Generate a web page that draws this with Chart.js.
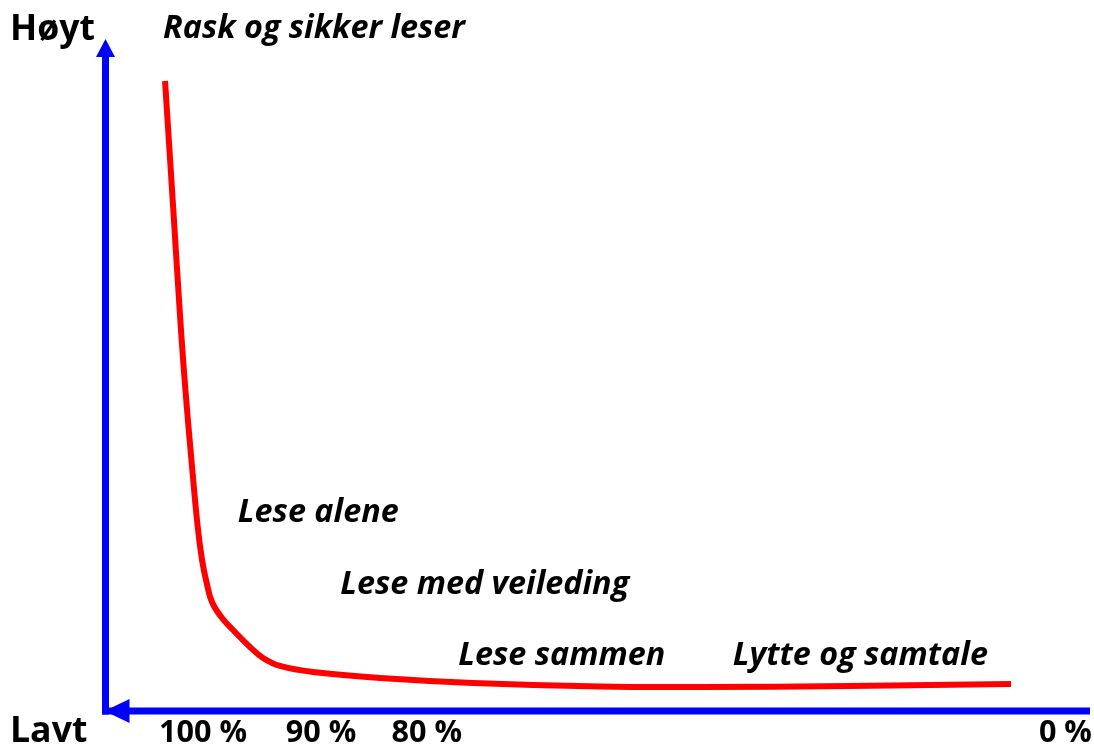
<!DOCTYPE html>
<html>
<head>
<meta charset="utf-8">
<script src="https://cdn.jsdelivr.net/npm/chart.js@4"></script>
<style>
  html, body { margin: 0; padding: 0; background: #ffffff; }
  #wrap { width: 1094px; height: 749px; position: relative; }
</style>
</head>
<body>
<div id="wrap"><canvas id="c"></canvas></div>
<script>
// ---- data (abstract units: x = position along axis 0..100, y = level 0..100) ----
const curveX = [6.00, 6.81, 7.62, 8.13, 8.71, 9.30, 9.76, 10.21, 10.77, 11.79, 13.11, 14.63, 15.96, 17.68, 21.04, 27.85, 37.30, 50.20, 60.37, 75.61, 91.97];
const curveY = [93.90, 75.45, 56.85, 46.88, 37.05, 27.83, 22.62, 19.35, 16.37, 13.99, 11.90, 9.67, 8.04, 6.85, 5.95, 5.06, 4.32, 3.79, 3.72, 3.87, 4.17];

const tickLabels = ['100 %', '90 %', '80 %', '0 %'];
const tickValues = [9.86, 21.85, 32.6, 97.5];

const labelTexts = ['Rask og sikker leser', 'Lese alene', 'Lese med veileding', 'Lese sammen', 'Lytte og samtale'];
const labelX = [5.8, 13.4, 23.8, 35.8, 63.7];
const labelY = [101.6, 29.7, 19.0, 8.3, 8.3];

const highLabel = 'Høyt';
const lowLabel = 'Lavt';

const points = curveX.map((x, i) => ({ x: x, y: curveY[i] }));

const FONT = '"Open Sans", Lato, sans-serif';
const BLUE = '#0000ff';

function fitFont(ctx, style, text, target) {
  ctx.font = style + ' 100px ' + FONT;
  const w = ctx.measureText(text).width;
  return style + ' ' + (100 * target / w).toFixed(2) + 'px ' + FONT;
}

const decor = {
  id: 'decor',
  afterDraw(chart) {
    const ctx = chart.ctx;
    const xs = chart.scales.x, ys = chart.scales.y;
    const a = chart.chartArea;
    ctx.save();
    // axes
    const ax = a.left - 0.5, ay = a.bottom - 1;
    ctx.strokeStyle = BLUE;
    ctx.lineWidth = 7;
    ctx.lineCap = 'butt';
    ctx.beginPath();
    ctx.moveTo(ax, ay + 3.5);
    ctx.lineTo(ax, a.top + 15);
    ctx.stroke();
    ctx.beginPath();
    ctx.moveTo(ax - 3.5, ay);
    ctx.lineTo(a.right, ay);
    ctx.stroke();
    // up arrow
    ctx.fillStyle = BLUE;
    ctx.beginPath();
    ctx.moveTo(ax, a.top - 1);
    ctx.lineTo(ax + 9.5, a.top + 17);
    ctx.lineTo(ax - 9.5, a.top + 17);
    ctx.closePath();
    ctx.fill();
    // left arrow
    ctx.beginPath();
    ctx.moveTo(ax - 1, ay);
    ctx.lineTo(ax + 24, ay - 12);
    ctx.lineTo(ax + 24, ay + 12);
    ctx.closePath();
    ctx.fill();

    // tick labels
    ctx.fillStyle = '#000000';
    ctx.textAlign = 'center';
    ctx.textBaseline = 'alphabetic';
    ctx.font = fitFont(ctx, 'bold', '100 %', 88);
    tickValues.forEach((v, i) => {
      ctx.fillText(tickLabels[i], xs.getPixelForValue(v), a.bottom + 30);
    });

    // corner labels
    ctx.font = fitFont(ctx, 'bold', highLabel, 85);
    ctx.textAlign = 'left';
    ctx.fillText(highLabel, 10, 40);
    ctx.fillText(lowLabel, 10, a.bottom + 30);

    // annotation labels
    ctx.font = fitFont(ctx, 'italic bold', labelTexts[0], 302);
    ctx.textBaseline = 'middle';
    labelTexts.forEach((t, i) => {
      ctx.fillText(t, xs.getPixelForValue(labelX[i]), ys.getPixelForValue(labelY[i]));
    });
    ctx.restore();
  }
};

new Chart(document.getElementById('c'), {
  type: 'line',
  data: {
    datasets: [{
      data: points,
      borderColor: '#ff0000',
      borderWidth: 6,
      pointRadius: 0,
      fill: false,
      tension: 0.4,
      borderCapStyle: 'butt',
      borderJoinStyle: 'round'
    }]
  },
  options: {
    responsive: true,
    maintainAspectRatio: false,
    animation: false,
    layout: { padding: { left: 106, right: 4, top: 40, bottom: 37 } },
    plugins: { legend: { display: false }, tooltip: { enabled: false } },
    scales: {
      x: { type: 'linear', min: 0, max: 100, display: false },
      y: { type: 'linear', min: 0, max: 100, display: false }
    }
  },
  plugins: [decor]
});
</script>
</body>
</html>
